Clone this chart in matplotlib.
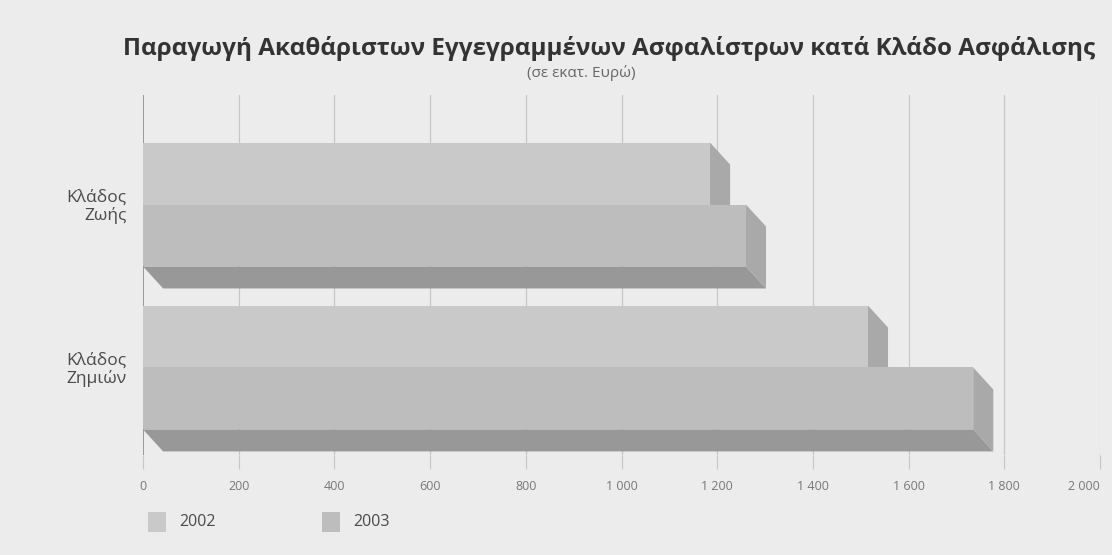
import numpy as np
import matplotlib.pyplot as plt
from matplotlib.patches import Polygon, Rectangle

plt.rcParams['font.family'] = ['Open Sans', 'DejaVu Sans']

# -------- DATA (εκατ. Ευρώ) --------
branches = ["Κλάδος\nΖωής", "Κλάδος\nΖημιών"]
years = ["2002", "2003"]
premiums_2002 = [1185, 1515]
premiums_2003 = [1260, 1735]
xticks = [0, 200, 400, 600, 800, 1000, 1200, 1400, 1600, 1800, 2000]
xtick_labels = ["0", "200", "400", "600", "800", "1 000", "1 200", "1 400", "1 600", "1 800", "2 000"]

# -------- STYLE --------
bg = "#ececec"
front_cols = ["#c9c9c9", "#bdbdbd"]
side_col = "#a9a9a9"
bottom_col = "#989898"
text_col = "#4a4a4a"

fig = plt.figure(figsize=(11.12, 5.55), dpi=100, facecolor=bg)
ax = fig.add_axes([143/1112, 1 - 455/555, 957/1112, 360/555])
ax.set_facecolor(bg)

ax.set_xlim(0, 2000)
ax.set_ylim(-0.537, 1.672)

bar_h = 0.38
dx = 42      # depth in x units
dy = 0.135   # depth in y units
centers = [1, 0]

for x in xticks[1:]:
    ax.axvline(x, color="#c6c6c6", lw=0.9, zorder=0)
ax.axvline(0, color="#8a8a8a", lw=1.2, zorder=0)


def bar3d(ax, y0, y1, v, face):
    # y0 = bottom edge of the front face, y1 = top edge
    ax.add_patch(Polygon([(0, y0), (v, y0), (v + dx, y0 - dy), (dx, y0 - dy)],
                         closed=True, fc=bottom_col, ec="none", zorder=2))
    ax.add_patch(Polygon([(v, y1), (v + dx, y1 - dy), (v + dx, y0 - dy), (v, y0)],
                         closed=True, fc=side_col, ec="none", zorder=2))
    ax.add_patch(Rectangle((0, y0), v, y1 - y0, fc=face, ec="none", zorder=3))


for c, v02, v03 in zip(centers, premiums_2002, premiums_2003):
    # 2002 sits above and behind, 2003 in front
    bar3d(ax, c, c + bar_h, v02, front_cols[0])
    bar3d(ax, c - bar_h, c, v03, front_cols[1])

ax.set_yticks(centers)
ax.set_yticklabels(branches, fontsize=12.5, color=text_col, ha="right",
                   linespacing=1.05)
ax.set_xticks(xticks)
ax.set_xticklabels(xtick_labels, fontsize=9, color="#777777")
ax.get_xticklabels()[-1].set_ha("right")
ax.tick_params(axis="x", length=10, color="#c6c6c6", pad=8)
ax.tick_params(axis="y", length=0, pad=12)
for s in ax.spines.values():
    s.set_visible(False)

fig.text(0.548, 0.912, "Παραγωγή Ακαθάριστων Εγγεγραμμένων Ασφαλίστρων κατά Κλάδο Ασφάλισης",
         ha="center", va="center", fontsize=17.5, fontweight="bold", color="#333333")
fig.text(0.523, 0.868, "(σε εκατ. Ευρώ)", ha="center", va="center",
         fontsize=11, color="#666666")

# legend
leg_x = [148, 322]
for lx, yr, col in zip(leg_x, years, front_cols):
    fig.patches.append(Rectangle((lx/1112, 1 - 532/555), 18/1112, 20/555,
                                 transform=fig.transFigure, fc=col, ec="none"))
    fig.text((lx + 31)/1112, 1 - 522/555, yr, ha="left", va="center",
             fontsize=11.5, color=text_col)

fig.savefig("out.png", dpi=100, facecolor=bg)
